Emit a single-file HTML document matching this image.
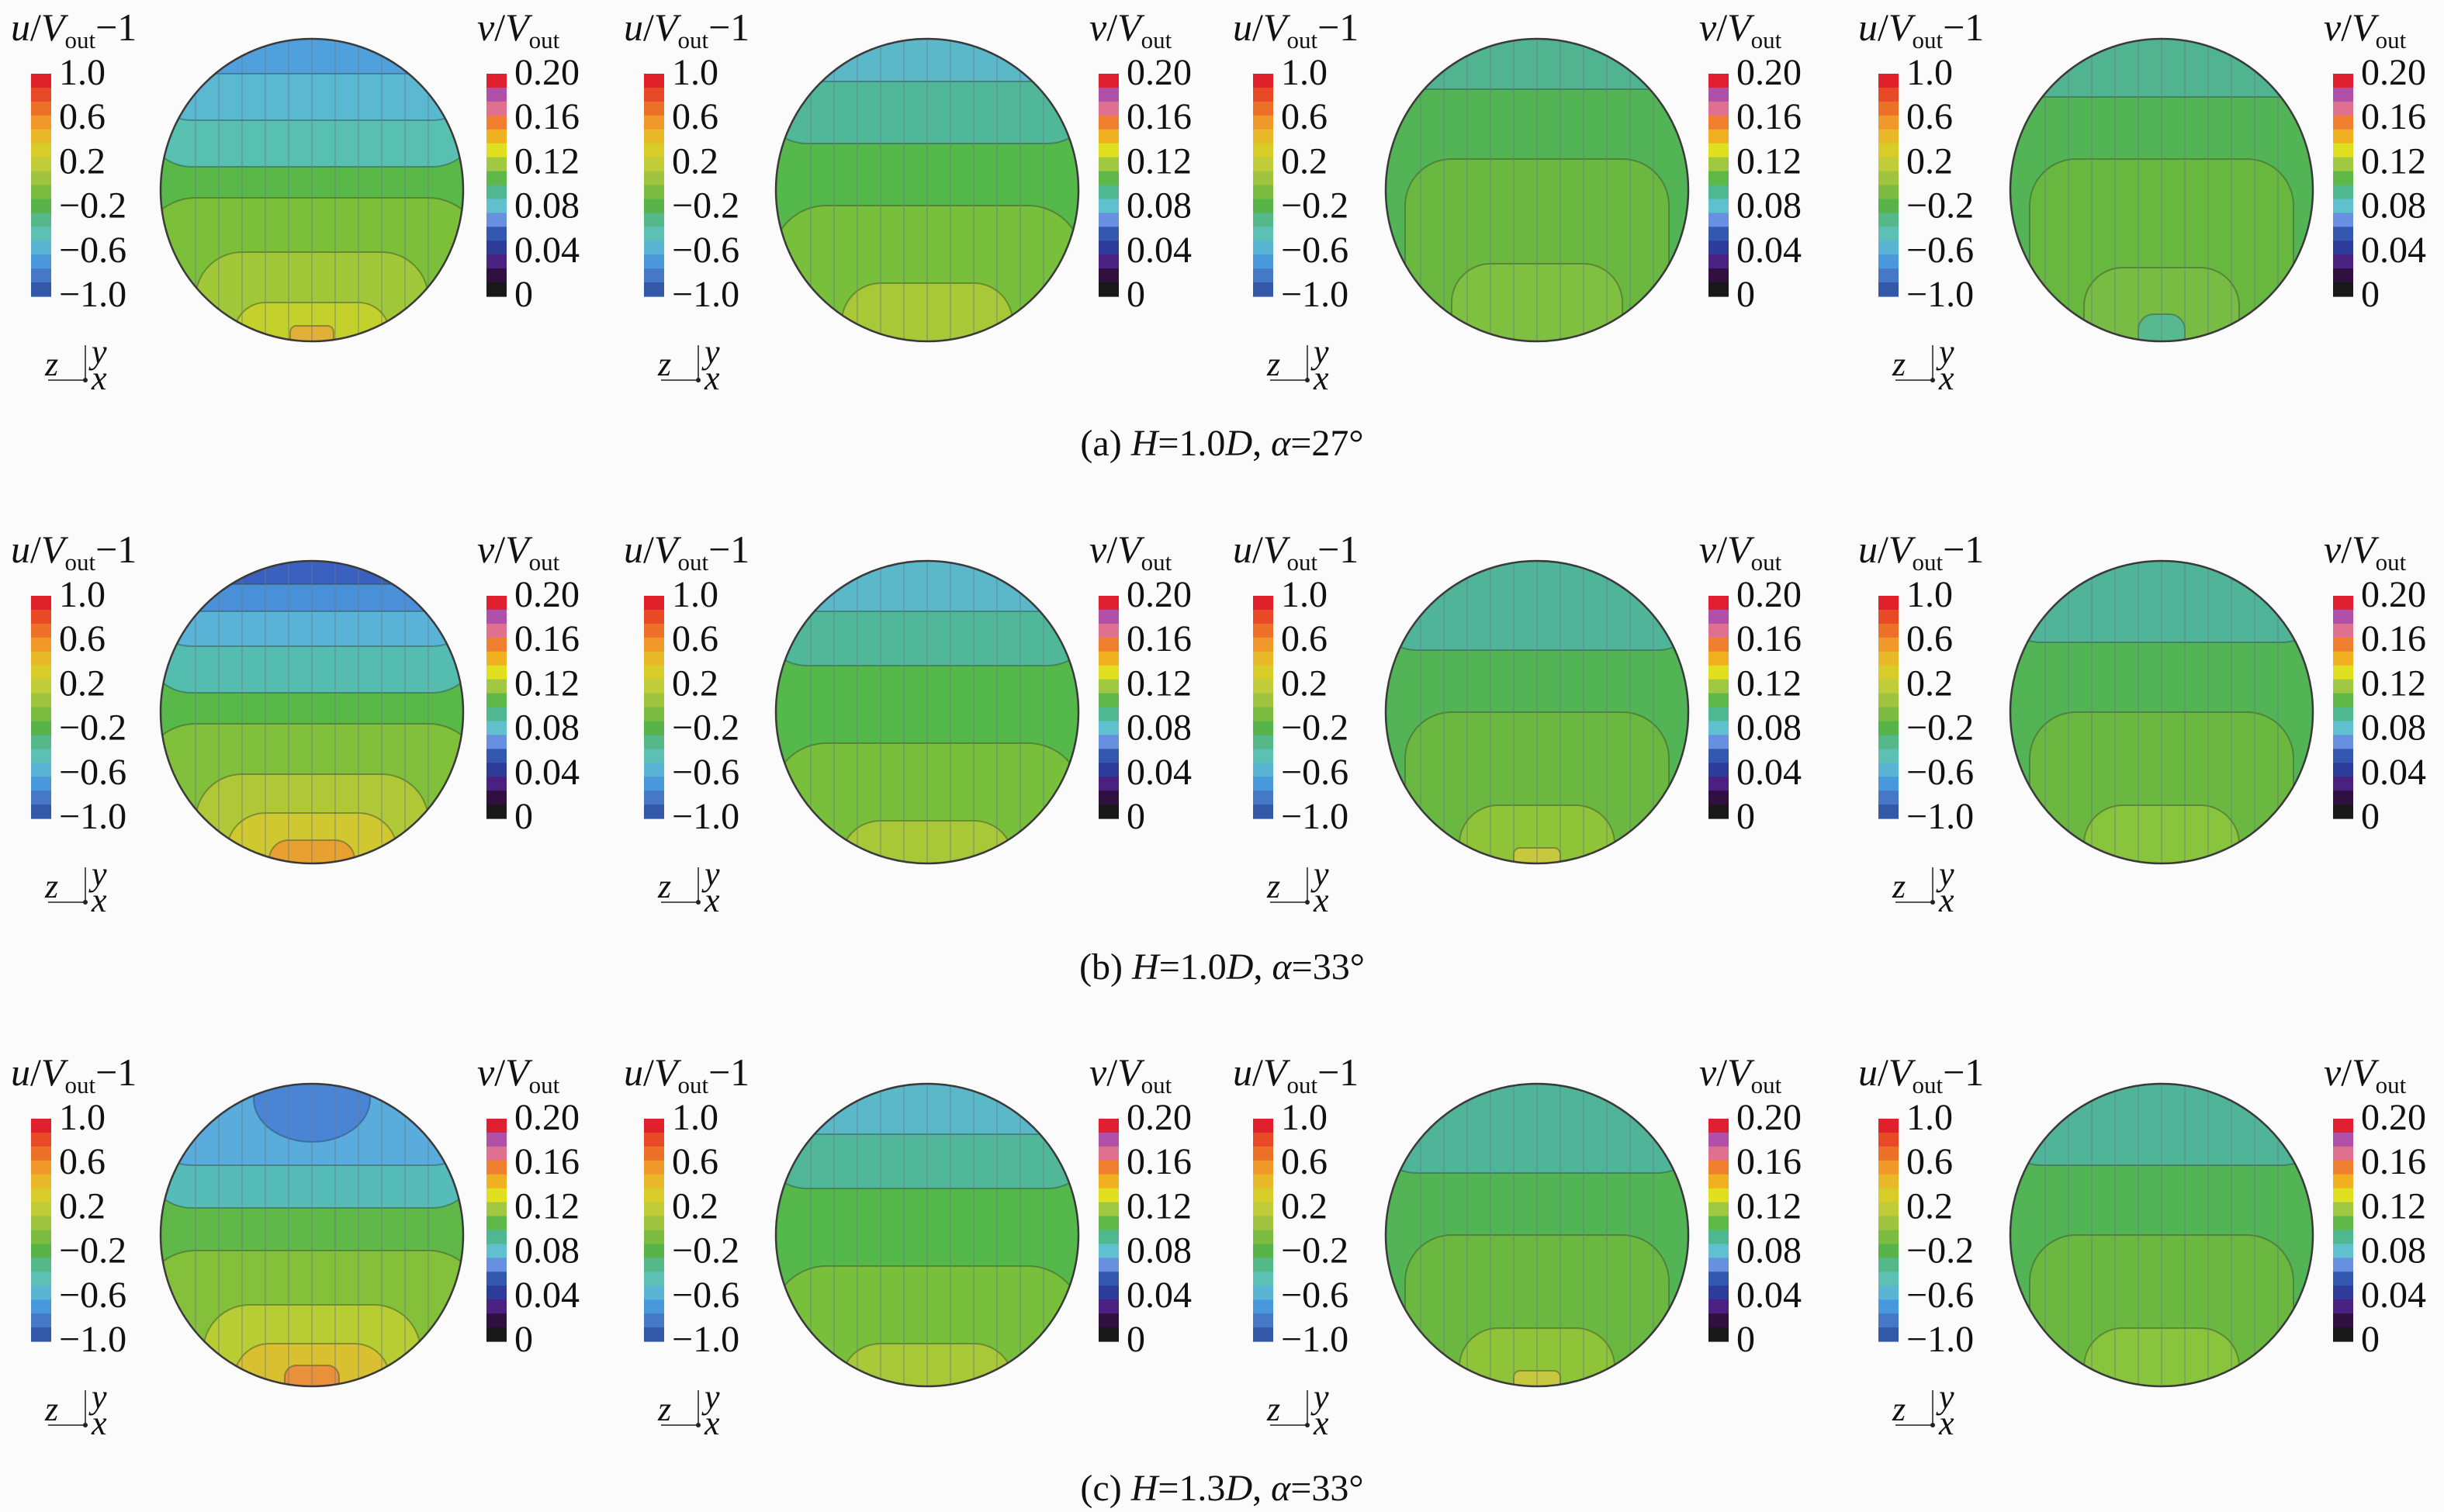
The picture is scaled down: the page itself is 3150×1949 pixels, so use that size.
<!DOCTYPE html>
<html><head><meta charset="utf-8">
<style>
html,body{margin:0;padding:0;background:#fbfbfb;}
svg{display:block;}
</style></head>
<body>
<svg id="s" width="3150" height="1949" viewBox="0 0 3150 1949" xmlns="http://www.w3.org/2000/svg" font-family="'Liberation Serif', 'DejaVu Serif', serif"></svg>
<script>
var S=document.getElementById('s'),h='';
var R=195;
var F=' font-family="\'Liberation Serif\', \'DejaVu Serif\', serif" fill="#111"';
var uCols=['#e0202a','#e84a28','#ec7028','#f0982a','#e8b828','#d8cc28','#c0cc38','#a0c440','#7cbc40','#58b448','#54b888','#5cc0b4','#5ab4d4','#4a98dc','#4678c8','#3458a8'];
var vCols=['#e02030','#b050a8','#e07090','#f08030','#f0b020','#e0e020','#a0c840','#60b848','#50b890','#60c0d0','#6890e0','#3458b0','#2c3c98','#4a2080','#301040','#181818'];
var uL=['1.0','0.6','0.2','\u22120.2','\u22120.6','\u22121.0'];
var vL=['0.20','0.16','0.12','0.08','0.04','0'];
var uX=[40,830,1615,2421],vX=[627,1416,2202,3007],cX=[402,1195,1981,2786];
var rowY=[0,673,1347];
function bar(x,y,cols){var n=cols.length,hh=287/n;for(var i=0;i<n;i++)h+='<rect x="'+x+'" y="'+(y+i*hh)+'" width="26" height="'+(hh+0.6)+'" fill="'+cols[i]+'"/>';}
function labels(x,y,L){for(var i=0;i<6;i++)h+='<text'+F+' x="'+x+'" y="'+(y-3+i*57.2+17)+'" font-size="48">'+L[i]+'</text>';}
var specs=[
[{b:'#5ab848',t:[['#58c0b0',-30],['#5ab8d0',-90],['#4fa0dc',-150]],bt:[['#7cc03a',10,220,70],['#a0c838',80,150,60],['#c4d02c',145,100,40],['#e0b038',175,28,8]]},
 {b:'#55b84a',t:[['#50b898',-60],['#5ab8c8',-140]],bt:[['#78bf3c',20,200,70],['#a8c838',120,110,50]]},
 {b:'#52b454',t:[['#50b490',-130]],bt:[['#6ab840',-40,170,60],['#80c040',95,110,50]]},
 {b:'#52b454',t:[['#50b490',-120]],bt:[['#68b840',-40,170,60],['#78bc44',100,100,50],['#58b890',160,30,20]]}],
[{b:'#58b848',t:[['#55bcb0',-25],['#5ab4d8',-85],['#4a90d8',-130],['#3a60c0',-165]],bt:[['#80c03a',15,220,70],['#b0c838',80,150,60],['#d0c830',130,110,50],['#e8a030',165,55,25]]},
 {b:'#55b84a',t:[['#50b898',-60],['#5ab8c8',-130]],bt:[['#78bf3c',40,200,70],['#a8c838',140,110,50]]},
 {b:'#52b454',t:[['#50b498',-80]],bt:[['#6ab840',0,170,60],['#90c438',120,100,50],['#c8c840',175,30,8]]},
 {b:'#52b454',t:[['#50b498',-90]],bt:[['#6ab840',0,170,60],['#88c43c',120,100,50]]}],
[{b:'#60b848',t:[['#55bcb8',-35],['#5aacdc',-90]],spot:1,bt:[['#84c03a',20,220,70],['#b8cc34',90,140,60],['#d8c030',140,100,45],['#e8903a',168,35,15]]},
 {b:'#55b84a',t:[['#50b898',-60],['#5ab8c8',-130]],bt:[['#78bf3c',40,200,70],['#a8c838',140,110,50]]},
 {b:'#52b454',t:[['#50b498',-80]],bt:[['#6ab840',0,170,60],['#90c438',120,100,50],['#c8c840',175,30,8]]},
 {b:'#52b454',t:[['#50b498',-90]],bt:[['#6ab840',0,170,60],['#88c43c',120,100,50]]}]];
var cid=0;
function sphere(cx,cy,sp){
 cid++;h+='<clipPath id="c'+cid+'"><circle cx="'+cx+'" cy="'+cy+'" r="'+R+'"/></clipPath><g clip-path="url(#c'+cid+')">';
 h+='<circle cx="'+cx+'" cy="'+cy+'" r="'+R+'" fill="'+sp.b+'"/>';
 sp.t.forEach(function(t){var yb=cy+t[1];h+='<rect x="'+(cx-R-20)+'" y="'+(cy-R-60)+'" width="'+(2*R+40)+'" height="'+(yb-(cy-R-60))+'" rx="60" fill="'+t[0]+'" stroke="#2a4a4a" stroke-opacity=".45" stroke-width="2"/>';});
 if(sp.spot)h+='<ellipse cx="'+cx+'" cy="'+(cy-175)+'" rx="75" ry="55" fill="#4a84d4" stroke="#2a4a6a" stroke-opacity=".5" stroke-width="2"/>';
 sp.bt.forEach(function(b){h+='<rect x="'+(cx-b[2])+'" y="'+(cy+b[1])+'" width="'+(2*b[2])+'" height="'+(R+40-b[1])+'" rx="'+b[3]+'" fill="'+b[0]+'" stroke="#3a4a2a" stroke-opacity=".45" stroke-width="2"/>';});
 for(var x=-150;x<=150;x+=30)h+='<line x1="'+(cx+x)+'" y1="'+(cy-R)+'" x2="'+(cx+x)+'" y2="'+(cy+R)+'" stroke="#6a7a8a" stroke-opacity=".4" stroke-width="2"/>';
 h+='</g><circle cx="'+cx+'" cy="'+cy+'" r="'+R+'" fill="none" stroke="#3a3a3a" stroke-width="2.5"/>';
}
for(var r=0;r<3;r++){var oy=rowY[r];
 for(var c=0;c<4;c++){
  sphere(cX[c],245+oy,specs[r][c]);
  bar(uX[c],95+oy,uCols);bar(vX[c],95+oy,vCols);
  labels(uX[c]+36,95+oy,uL);labels(vX[c]+36,95+oy,vL);
  h+='<text'+F+' x="'+(uX[c]-26)+'" y="'+(52+oy)+'" font-size="50"><tspan font-style="italic">u</tspan>/<tspan font-style="italic">V</tspan><tspan font-size="31" dy="10">out</tspan><tspan dy="-10">\u22121</tspan></text>';
  h+='<text'+F+' x="'+(vX[c]-12)+'" y="'+(52+oy)+'" font-size="50"><tspan font-style="italic">v</tspan>/<tspan font-style="italic">V</tspan><tspan font-size="31" dy="10">out</tspan></text>';
  var ax=uX[c]+70,ay=490+oy;
  h+='<line x1="'+(ax-48)+'" y1="'+ay+'" x2="'+ax+'" y2="'+ay+'" stroke="#555" stroke-width="2"/><line x1="'+ax+'" y1="'+ay+'" x2="'+ax+'" y2="'+(ay-45)+'" stroke="#555" stroke-width="2"/><circle cx="'+ax+'" cy="'+ay+'" r="3" fill="#222"/>';
  h+='<text'+F+' x="'+(ax-52)+'" y="'+(ay-6)+'" font-size="44" font-style="italic">z</text><text'+F+' x="'+(ax+8)+'" y="'+(ay-22)+'" font-size="44" font-style="italic">y</text><text'+F+' x="'+(ax+8)+'" y="'+(ay+12)+'" font-size="44" font-style="italic">x</text>';
 }
}
var caps=[['(a) ','1.0','27'],['(b) ','1.0','33'],['(c) ','1.3','33']];
var cy=[587,1262,1934];
for(var i=0;i<3;i++)h+='<text'+F+' x="1575" y="'+cy[i]+'" font-size="48" text-anchor="middle">'+caps[i][0]+'<tspan font-style="italic">H</tspan>='+caps[i][1]+'<tspan font-style="italic">D</tspan>, <tspan font-style="italic">\u03b1</tspan>='+caps[i][2]+'\u00b0</text>';
S.innerHTML=h;
</script>
</body></html>
